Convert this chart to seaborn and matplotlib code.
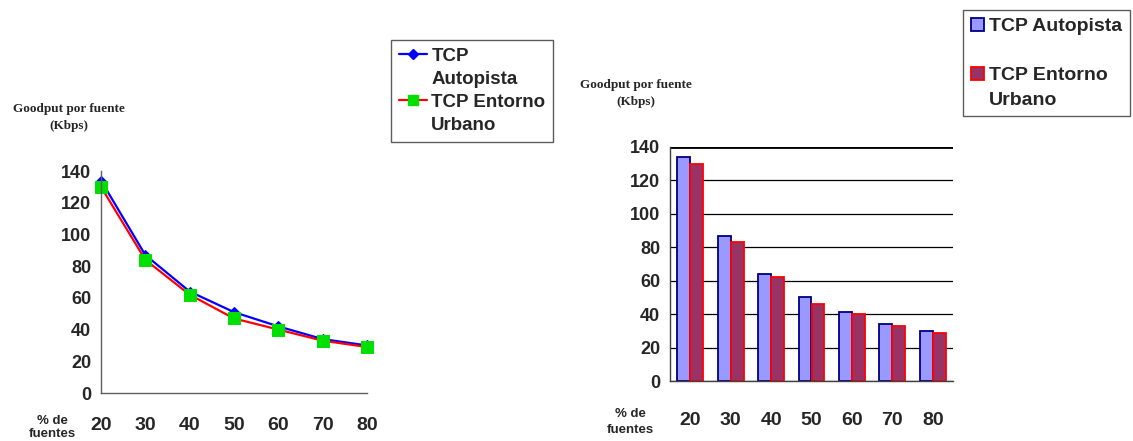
import pandas as pd
import matplotlib.pyplot as plt
import seaborn as sns
from matplotlib.lines import Line2D
from matplotlib.patches import Patch

sns.set_theme(style='white')
plt.rcParams['font.family'] = ['Liberation Sans', 'DejaVu Sans']

# Data
fuentes = [20, 30, 40, 50, 60, 70, 80]
linea_autopista = [134, 87, 64, 51, 42, 34, 30]
linea_urbano = [130, 84, 62, 47, 40, 33, 29]
barra_autopista = [134, 87, 64, 50, 41, 34, 30]
barra_urbano = [130, 83, 62, 46, 40, 33, 29]
series = ['TCP Autopista', 'TCP Entorno Urbano']

bars = pd.DataFrame({
    'fuentes': fuentes * 2,
    'goodput': barra_autopista + barra_urbano,
    'serie': [series[0]] * len(fuentes) + [series[1]] * len(fuentes),
})

fig = plt.figure(figsize=(11.33, 4.41), dpi=100)
W, H = 1133, 441

def px_axes(x0, y0, x1, y1):
    return fig.add_axes([x0 / W, 1 - y1 / H, (x1 - x0) / W, (y1 - y0) / H])

ylab_font = dict(fontsize=9.5, fontweight='bold', family=['Liberation Serif'])
xlab_font = dict(fontsize=9.5, fontweight='bold')

def style_ticks(ax):
    for lab in ax.get_xticklabels():
        lab.set_fontsize(14)
        lab.set_fontweight('bold')
    for lab in ax.get_yticklabels():
        lab.set_fontsize(13)
        lab.set_fontweight('bold')

# Left: line chart
ax1 = px_axes(101, 171, 367, 393)
sns.lineplot(x=fuentes, y=linea_autopista, color='#0000FF', lw=1.6, marker='D',
             markersize=5, markerfacecolor='#0000FF', markeredgecolor='#0000FF', ax=ax1)
sns.lineplot(x=fuentes, y=linea_urbano, color='#FF0000', lw=1.6, marker='s',
             markersize=8, markerfacecolor='#00E000', markeredgecolor='#00E000', ax=ax1)
ax1.set_xlim(20, 80)
ax1.set_ylim(0, 140)
ax1.set_xticks(fuentes)
ax1.set_yticks(range(0, 141, 20))
for s in ['top', 'right']:
    ax1.spines[s].set_visible(False)
for s in ['left', 'bottom']:
    ax1.spines[s].set_color('#606060')
    ax1.spines[s].set_linewidth(1)
ax1.tick_params(axis='both', direction='out', length=4, width=1, color='#606060', pad=3)
ax1.tick_params(axis='x', pad=13)
style_ticks(ax1)
for ln in ax1.lines:
    ln.set_clip_on(False)

fig.text(69 / W, 1 - 109 / H, 'Goodput por fuente', ha='center', va='center', **ylab_font)
fig.text(69 / W, 1 - 126 / H, '(Kbps)', ha='center', va='center', **ylab_font)
fig.text(52 / W, 1 - 421 / H, '% de', ha='center', va='center', **xlab_font)
fig.text(52 / W, 1 - 434 / H, 'fuentes', ha='center', va='center', **xlab_font)

blank = Line2D([], [], color='none')
h_auto = Line2D([], [], color='#0000FF', lw=1.6, marker='D', markersize=5)
h_urb = Line2D([], [], color='#FF0000', lw=1.6, marker='s', markersize=7,
               markerfacecolor='#00E000', markeredgecolor='#00E000')
leg1 = fig.legend([h_auto, blank, h_urb, blank], ['TCP', 'Autopista', 'TCP Entorno', 'Urbano'],
                  loc='upper left', bbox_to_anchor=(391 / W, 1 - 40 / H),
                  prop=dict(weight='bold', size=13.5), frameon=True, fancybox=False,
                  edgecolor='#333333', handlelength=1.5, handletextpad=0.25,
                  labelspacing=0.32, borderpad=0.4, borderaxespad=0)
leg1.get_frame().set_linewidth(1)

# Right: bar chart
ax2 = px_axes(670, 147, 953, 381)
sns.barplot(data=bars, x='fuentes', y='goodput', hue='serie', hue_order=series,
            palette=['#9999FF', '#993366'], width=0.64, dodge=True, legend=False,
            saturation=1, ax=ax2)
edges = ['#000080', '#FF0000']
for cont, ec in zip(ax2.containers, edges):
    for p in cont:
        p.set_edgecolor(ec)
        p.set_linewidth(1.3)
ax2.set_ylim(0, 140)
ax2.set_xlim(-0.5, len(fuentes) - 0.5)
ax2.set_yticks(range(0, 141, 20))
ax2.yaxis.grid(True, color='black', lw=0.9)
ax2.set_axisbelow(True)
ax2.set_xlabel('')
ax2.set_ylabel('')
for s in ['top', 'right']:
    ax2.spines[s].set_visible(False)
for s in ['left', 'bottom']:
    ax2.spines[s].set_color('#404040')
    ax2.spines[s].set_linewidth(1)
ax2.axhline(140, color='black', lw=2, zorder=0.5)
ax2.set_xticks([i - 0.5 for i in range(len(fuentes) + 1)], minor=True)
ax2.tick_params(axis='x', which='minor', direction='out', length=5, width=1, color='#404040')
ax2.tick_params(axis='x', which='major', length=0, pad=22)
ax2.tick_params(axis='y', direction='out', length=4, width=1, color='#404040', pad=3)
style_ticks(ax2)

fig.text(636 / W, 1 - 85 / H, 'Goodput por fuente', ha='center', va='center', **ylab_font)
fig.text(636 / W, 1 - 102 / H, '(Kbps)', ha='center', va='center', **ylab_font)
fig.text(630 / W, 1 - 414 / H, '% de', ha='center', va='center', **xlab_font)
fig.text(630 / W, 1 - 430 / H, 'fuentes', ha='center', va='center', **xlab_font)

p_auto = Patch(facecolor='#9999FF', edgecolor='#000080', lw=1.3)
p_urb = Patch(facecolor='#993366', edgecolor='#FF0000', lw=1.3)
leg2 = fig.legend([p_auto, blank, p_urb, blank], ['TCP Autopista', '', 'TCP Entorno', 'Urbano'],
                  loc='upper left', bbox_to_anchor=(963 / W, 1 - 10 / H),
                  prop=dict(weight='bold', size=14), frameon=True, fancybox=False,
                  edgecolor='#333333', handlelength=0.7, handleheight=0.7, handletextpad=0.25,
                  labelspacing=0.35, borderpad=0.4, borderaxespad=0)
leg2.get_frame().set_linewidth(1)

fig.savefig('out.png', dpi=100)
